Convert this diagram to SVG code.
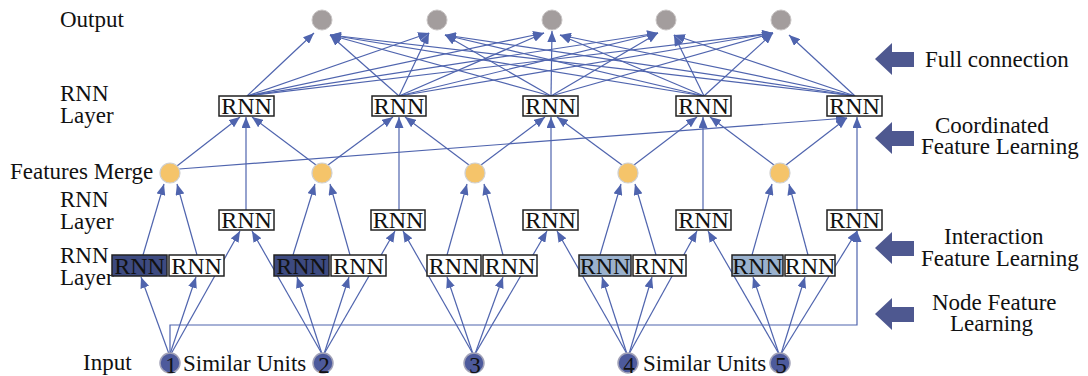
<svg xmlns="http://www.w3.org/2000/svg" xmlns:xlink="http://www.w3.org/1999/xlink" width="1088" height="376" viewBox="0 0 1088 376">
  <style>
    .lbl { font-family: "Liberation Serif", "Times New Roman", serif; font-size: 23px; fill: #111; }
    .rt { font-family: "Liberation Serif", "Times New Roman", serif; font-size: 24px; fill: #111; text-anchor: middle; }
    .num { font-family: "Liberation Serif", "Times New Roman", serif; font-size: 23px; fill: #111; text-anchor: middle; }
    .box { fill: #ffffff; stroke: #222; stroke-width: 1.5; }
    .box-dark { fill: #3d4a80; stroke: #222; stroke-width: 1.5; }
    .box-light { fill: #9ab1cd; stroke: #222; stroke-width: 1.5; }
    .out { fill: #a39d9d; stroke: #c8c4c4; stroke-width: 1; }
    .merge { fill: #f5c46a; stroke: #cfcfcf; stroke-width: 1.2; }
    .inp { fill: #4d5a9c; stroke: #a3a3b8; stroke-width: 1.5; }
    .edges line, .edges path { stroke: #4f64ae; stroke-width: 1.2; fill: none; marker-end: url(#ah); }
    .big { fill: #4e5890; }
  </style>
  <defs>
    <marker id="ah" viewBox="0 0 11 9" refX="11" refY="4.5" markerWidth="11" markerHeight="9" orient="auto" markerUnits="userSpaceOnUse">
      <path d="M0,0 L11,4.5 L0,9 z" fill="#4f64ae"/>
    </marker>
    <polygon id="bigArrow" points="0,0 17,-16 17,-7 39,-7 39,8 17,8 17,16"/>
  </defs>
  <rect width="1088" height="376" fill="#ffffff"/>

  <!-- layer captions -->
  <g id="captions-left">
    <text class="lbl" x="60" y="27">Output</text>
    <text class="lbl" x="60" y="101">RNN</text>
    <text class="lbl" x="60" y="123">Layer</text>
    <text class="lbl" x="10" y="179">Features Merge</text>
    <text class="lbl" x="60" y="207">RNN</text>
    <text class="lbl" x="60" y="229">Layer</text>
    <text class="lbl" x="60" y="263">RNN</text>
    <text class="lbl" x="60" y="285">Layer</text>
    <text class="lbl" x="83" y="370">Input</text>
    <text class="lbl" x="183" y="371">Similar Units</text>
    <text class="lbl" x="643" y="371">Similar Units</text>
  </g>

  <!-- stage markers on the right -->
  <g id="stages" class="big">
    <use xlink:href="#bigArrow" x="875" y="59"/>
    <use xlink:href="#bigArrow" x="875" y="138"/>
    <use xlink:href="#bigArrow" x="875" y="248"/>
    <use xlink:href="#bigArrow" x="875" y="314"/>
  </g>
  <g id="stage-labels">
    <text class="lbl" x="925" y="67">Full connection</text>
    <text class="lbl" x="935" y="133">Coordinated</text>
    <text class="lbl" x="921" y="154">Feature Learning</text>
    <text class="lbl" x="944" y="244">Interaction</text>
    <text class="lbl" x="921" y="266">Feature Learning</text>
    <text class="lbl" x="932" y="310">Node Feature</text>
    <text class="lbl" x="950" y="331">Learning</text>
  </g>

  <!-- connectors -->
  <g id="connectors" class="edges">
    <!-- full connection: top RNN row to outputs -->
    <line x1="247" y1="96" x2="314" y2="33"/>
    <line x1="399" y1="96" x2="330" y2="35"/>
    <line x1="551" y1="96" x2="330" y2="35"/>
    <line x1="704" y1="96" x2="330" y2="35"/>
    <line x1="855" y1="96" x2="330" y2="35"/>

    <line x1="247" y1="96" x2="429" y2="33"/>
    <line x1="399" y1="96" x2="429" y2="33"/>
    <line x1="551" y1="96" x2="445" y2="35"/>
    <line x1="704" y1="96" x2="445" y2="35"/>
    <line x1="855" y1="96" x2="445" y2="35"/>

    <line x1="247" y1="96" x2="544" y2="33"/>
    <line x1="399" y1="96" x2="544" y2="33"/>
    <line x1="551" y1="96" x2="552" y2="31"/>
    <line x1="704" y1="96" x2="560" y2="35"/>
    <line x1="855" y1="96" x2="560" y2="35"/>

    <line x1="247" y1="96" x2="658" y2="33"/>
    <line x1="399" y1="96" x2="658" y2="33"/>
    <line x1="551" y1="96" x2="658" y2="33"/>
    <line x1="704" y1="96" x2="674" y2="35"/>
    <line x1="855" y1="96" x2="674" y2="35"/>

    <line x1="247" y1="96" x2="773" y2="33"/>
    <line x1="399" y1="96" x2="773" y2="33"/>
    <line x1="551" y1="96" x2="773" y2="33"/>
    <line x1="704" y1="96" x2="773" y2="33"/>
    <line x1="855" y1="96" x2="789" y2="35"/>

    <!-- features merge to top RNN row -->
    <line x1="177" y1="166" x2="240" y2="117"/>
    <line x1="179" y1="169" x2="847" y2="118"/>
    <line x1="316" y1="165" x2="252" y2="117"/>
    <line x1="328" y1="165" x2="393" y2="117"/>
    <line x1="469" y1="165" x2="405" y2="117"/>
    <line x1="481" y1="165" x2="545" y2="117"/>
    <line x1="622" y1="165" x2="557" y2="117"/>
    <line x1="634" y1="165" x2="697" y2="117"/>
    <line x1="774" y1="165" x2="710" y2="117"/>
    <line x1="786" y1="165" x2="847" y2="118"/>

    <!-- middle RNN row straight up -->
    <line x1="246" y1="210" x2="246" y2="117"/>
    <line x1="399" y1="210" x2="399" y2="117"/>
    <line x1="551" y1="210" x2="551" y2="117"/>
    <line x1="703" y1="210" x2="703" y2="117"/>
    <line x1="857" y1="210" x2="857" y2="117"/>

    <!-- paired RNNs into features merge -->
    <line x1="143" y1="255" x2="164" y2="184"/>
    <line x1="197" y1="255" x2="177" y2="184"/>
    <line x1="293" y1="255" x2="315" y2="184"/>
    <line x1="350" y1="255" x2="330" y2="184"/>
    <line x1="447" y1="255" x2="467" y2="184"/>
    <line x1="503" y1="255" x2="484" y2="184"/>
    <line x1="600" y1="255" x2="621" y2="184"/>
    <line x1="656" y1="255" x2="635" y2="184"/>
    <line x1="752" y1="255" x2="772" y2="184"/>
    <line x1="808" y1="255" x2="789" y2="184"/>

    <!-- inputs to the RNN rows -->
    <line x1="169" y1="354" x2="141" y2="277"/>
    <line x1="170" y1="354" x2="196" y2="277"/>
    <line x1="171" y1="354" x2="240" y2="231"/>

    <line x1="322" y1="354" x2="252" y2="231"/>
    <line x1="322" y1="354" x2="297" y2="277"/>
    <line x1="324" y1="354" x2="349" y2="277"/>
    <line x1="324" y1="354" x2="395" y2="231"/>

    <line x1="473" y1="354" x2="403" y2="231"/>
    <line x1="473" y1="354" x2="447" y2="277"/>
    <line x1="475" y1="354" x2="503" y2="277"/>
    <line x1="475" y1="354" x2="547" y2="231"/>

    <line x1="627" y1="354" x2="557" y2="231"/>
    <line x1="627" y1="354" x2="602" y2="277"/>
    <line x1="629" y1="354" x2="652" y2="277"/>
    <line x1="629" y1="354" x2="697" y2="231"/>

    <line x1="779" y1="354" x2="708" y2="231"/>
    <line x1="779" y1="354" x2="753" y2="277"/>
    <line x1="781" y1="354" x2="805" y2="277"/>
    <line x1="781" y1="354" x2="857" y2="231"/>

    <!-- unit 1 routed to the last column -->
    <path d="M170,354 V325 H857 V231"/>
  </g>

  <!-- output nodes -->
  <g id="out-1"><circle class="out" cx="322" cy="20" r="10"/></g>
  <g id="out-2"><circle class="out" cx="437" cy="20" r="10"/></g>
  <g id="out-3"><circle class="out" cx="552" cy="20" r="10"/></g>
  <g id="out-4"><circle class="out" cx="666" cy="20" r="10"/></g>
  <g id="out-5"><circle class="out" cx="781" cy="20" r="10"/></g>

  <!-- top RNN row -->
  <g id="rnn-top-1"><rect class="box" x="219" y="96" width="55" height="20"/><text class="rt" x="246.5" y="113.5">RNN</text></g>
  <g id="rnn-top-2"><rect class="box" x="372" y="96" width="54" height="20"/><text class="rt" x="399" y="113.5">RNN</text></g>
  <g id="rnn-top-3"><rect class="box" x="523" y="96" width="55" height="20"/><text class="rt" x="550.5" y="113.5">RNN</text></g>
  <g id="rnn-top-4"><rect class="box" x="676" y="96" width="55" height="20"/><text class="rt" x="703.5" y="113.5">RNN</text></g>
  <g id="rnn-top-5"><rect class="box" x="827" y="96" width="55" height="20"/><text class="rt" x="854.5" y="113.5">RNN</text></g>

  <!-- features merge nodes -->
  <g id="merge-1"><circle class="merge" cx="170" cy="173" r="10"/></g>
  <g id="merge-2"><circle class="merge" cx="322" cy="173" r="10"/></g>
  <g id="merge-3"><circle class="merge" cx="475" cy="173" r="10"/></g>
  <g id="merge-4"><circle class="merge" cx="628" cy="173" r="10"/></g>
  <g id="merge-5"><circle class="merge" cx="780" cy="173" r="10"/></g>

  <!-- middle RNN row -->
  <g id="rnn-mid-1"><rect class="box" x="219" y="210" width="55" height="20"/><text class="rt" x="246.5" y="227.5">RNN</text></g>
  <g id="rnn-mid-2"><rect class="box" x="371" y="210" width="54" height="20"/><text class="rt" x="398" y="227.5">RNN</text></g>
  <g id="rnn-mid-3"><rect class="box" x="523" y="210" width="55" height="20"/><text class="rt" x="550.5" y="227.5">RNN</text></g>
  <g id="rnn-mid-4"><rect class="box" x="676" y="210" width="55" height="20"/><text class="rt" x="703.5" y="227.5">RNN</text></g>
  <g id="rnn-mid-5"><rect class="box" x="827" y="210" width="55" height="20"/><text class="rt" x="854.5" y="227.5">RNN</text></g>

  <!-- paired RNN row -->
  <g id="rnn-pair-1a"><rect class="box-dark" x="112" y="255" width="55" height="21"/><text class="rt" x="139.5" y="273.5">RNN</text></g>
  <g id="rnn-pair-1b"><rect class="box" x="169" y="255" width="55" height="21"/><text class="rt" x="196.5" y="273.5">RNN</text></g>
  <g id="rnn-pair-2a"><rect class="box-dark" x="274" y="255" width="55" height="21"/><text class="rt" x="301.5" y="273.5">RNN</text></g>
  <g id="rnn-pair-2b"><rect class="box" x="331" y="255" width="55" height="21"/><text class="rt" x="358.5" y="273.5">RNN</text></g>
  <g id="rnn-pair-3a"><rect class="box" x="427" y="255" width="54" height="21"/><text class="rt" x="454" y="273.5">RNN</text></g>
  <g id="rnn-pair-3b"><rect class="box" x="483" y="255" width="54" height="21"/><text class="rt" x="510" y="273.5">RNN</text></g>
  <g id="rnn-pair-4a"><rect class="box-light" x="579" y="255" width="52" height="21"/><text class="rt" x="605" y="273.5">RNN</text></g>
  <g id="rnn-pair-4b"><rect class="box" x="633" y="255" width="53" height="21"/><text class="rt" x="659.5" y="273.5">RNN</text></g>
  <g id="rnn-pair-5a"><rect class="box-light" x="732" y="255" width="51" height="21"/><text class="rt" x="757.5" y="273.5">RNN</text></g>
  <g id="rnn-pair-5b"><rect class="box" x="785" y="255" width="50" height="21"/><text class="rt" x="810" y="273.5">RNN</text></g>

  <!-- input units -->
  <g id="in-1"><circle class="inp" cx="170" cy="363" r="10"/><text class="num" x="171" y="373">1</text></g>
  <g id="in-2"><circle class="inp" cx="323" cy="363" r="10"/><text class="num" x="324" y="373">2</text></g>
  <g id="in-3"><circle class="inp" cx="474" cy="363" r="10"/><text class="num" x="475" y="373">3</text></g>
  <g id="in-4"><circle class="inp" cx="628" cy="363" r="10"/><text class="num" x="629" y="373">4</text></g>
  <g id="in-5"><circle class="inp" cx="780" cy="363" r="10"/><text class="num" x="781" y="373">5</text></g>
</svg>
